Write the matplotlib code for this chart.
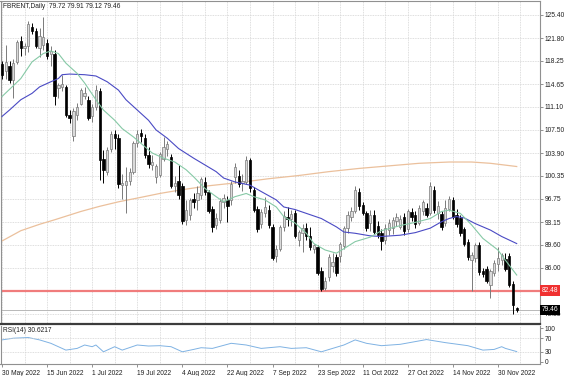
import matplotlib.pyplot as plt
import numpy as np

plt.rcParams['font.family'] = ['Liberation Sans Narrow', 'Liberation Sans', 'DejaVu Sans']

# daily bars, 30 May 2022 .. 7 Dec 2022 (one entry per weekday)
opens = [117.8, 116.6, 117.5, 115.3, 118.1, 121.3, 120.2, 120.6, 123.6, 122.9,
         120.2, 120.8, 121.0, 119.3, 119.4, 114.0, 114.2, 114.2, 109.9, 106.6,
         109.8, 111.6, 112.8, 112.2, 109.6, 111.1, 113.6, 103.0, 101.0, 104.6,
         106.9, 106.3, 98.9, 98.9, 99.5, 101.0, 105.4, 107.0, 106.3, 103.6,
         102.0, 100.2, 100.5, 103.0, 104.5, 103.3, 98.8, 99.6, 98.8, 93.5,
         94.3, 96.8, 96.6, 97.4, 99.4, 97.9, 95.2, 92.7, 93.4, 96.3,
         96.6, 96.6, 100.2, 100.4, 99.2, 99.4, 102.8, 98.1, 95.2, 92.9,
         94.6, 95.0, 92.4, 87.8, 88.9, 92.4, 94.0, 93.6, 94.5, 90.4,
         91.4, 92.2, 91.0, 89.0, 89.3, 85.6, 82.9, 84.6, 86.3, 87.7,
         87.9, 89.4, 92.3, 94.0, 94.8, 97.9, 95.8, 94.5, 93.0, 94.3,
         92.5, 91.4, 90.4, 91.9, 92.3, 93.3, 92.4, 94.0, 92.0, 94.7,
         94.2, 93.0, 94.9, 95.3, 94.6, 98.1, 94.5, 94.4, 93.0, 95.2,
         96.6, 94.2, 93.8, 92.0, 90.0, 87.3, 87.6, 89.6, 85.5, 85.9,
         83.4, 85.2, 86.6, 87.3, 87.4, 87.9, 83.5, 79.72]
highs = [118.3, 120.7, 118.2, 118.6, 121.5, 122.1, 121.0, 124.4, 124.1, 123.4,
         123.3, 125.1, 121.7, 120.5, 119.9, 114.8, 116.0, 114.5, 110.6, 110.9,
         111.7, 114.0, 114.2, 112.8, 111.6, 114.5, 114.0, 104.3, 104.8, 107.3,
         107.5, 106.9, 100.6, 101.8, 101.5, 105.8, 107.5, 107.7, 106.8, 104.9,
         103.6, 102.2, 104.0, 106.4, 105.8, 103.8, 100.4, 102.0, 99.3, 96.6,
         96.9, 97.7, 98.7, 100.2, 100.1, 98.2, 95.6, 94.5, 96.9, 97.5,
         97.2, 99.6, 102.3, 101.3, 100.6, 103.4, 103.1, 98.6, 95.6, 95.2,
         97.0, 95.8, 92.8, 89.5, 92.7, 94.8, 95.5, 95.0, 95.0, 91.9,
         92.9, 93.0, 92.4, 89.8, 89.6, 86.1, 84.6, 88.1, 88.4, 88.1,
         90.0, 92.6, 94.8, 95.5, 98.7, 98.4, 96.3, 94.9, 95.0, 95.0,
         93.3, 92.0, 92.8, 93.6, 94.0, 94.6, 94.3, 94.6, 95.2, 95.3,
         94.8, 95.8, 96.6, 96.1, 99.4, 98.8, 96.4, 94.8, 96.6, 97.2,
         97.0, 95.2, 94.2, 92.4, 90.5, 88.5, 89.9, 90.0, 86.0, 86.3,
         85.9, 87.3, 89.3, 88.4, 88.3, 88.3, 84.0, 79.91]
lows = [115.5, 115.5, 114.8, 112.4, 117.8, 119.0, 119.2, 119.7, 122.5, 120.2,
        118.9, 120.0, 118.5, 117.4, 111.4, 112.5, 113.6, 109.5, 108.6, 105.7,
        109.0, 111.4, 112.3, 109.0, 108.8, 110.6, 99.7, 99.2, 100.5, 104.0,
        104.5, 98.5, 96.8, 94.5, 98.9, 100.7, 104.9, 105.6, 103.2, 101.6,
        101.2, 99.3, 100.2, 102.6, 103.4, 98.5, 97.8, 96.8, 92.9, 92.7,
        93.5, 95.4, 95.0, 96.7, 97.4, 94.5, 91.6, 92.0, 93.0, 95.3,
        93.2, 95.8, 99.3, 98.6, 98.0, 99.0, 97.9, 94.7, 91.6, 92.2,
        94.0, 92.3, 87.2, 86.9, 88.6, 91.8, 92.5, 92.6, 90.6, 89.4,
        88.5, 90.4, 88.8, 88.4, 84.9, 82.48, 82.5, 84.0, 85.4, 84.8,
        87.0, 89.0, 91.5, 93.3, 94.5, 95.0, 94.2, 91.8, 91.7, 91.3,
        90.6, 88.8, 89.8, 91.1, 91.3, 92.6, 92.0, 91.1, 91.6, 93.3,
        92.3, 92.7, 94.2, 93.9, 94.2, 94.6, 93.6, 91.9, 92.5, 94.9,
        93.6, 92.4, 91.0, 89.4, 87.3, 82.4, 86.9, 84.9, 84.6, 83.7,
        81.3, 84.8, 85.6, 86.4, 85.5, 83.0, 78.8, 79.12]
closes = [116.0, 118.1, 115.3, 117.9, 121.2, 120.2, 120.5, 124.0, 122.9, 120.6,
          122.2, 121.9, 119.0, 119.8, 112.8, 114.5, 114.7, 109.8, 109.3, 110.5,
          111.1, 113.7, 113.2, 109.3, 111.1, 113.7, 102.8, 101.2, 104.3, 106.8,
          106.2, 99.0, 99.3, 99.6, 101.0, 105.4, 106.9, 106.5, 103.6, 102.2,
          102.5, 101.9, 103.8, 104.8, 105.3, 98.8, 99.3, 97.4, 93.3, 95.0,
          96.6, 96.2, 97.6, 99.9, 97.9, 94.8, 92.4, 93.8, 96.5, 96.9,
          95.6, 99.1, 101.8, 99.0, 99.6, 102.8, 98.4, 95.1, 92.0, 94.7,
          95.5, 92.7, 87.5, 89.0, 92.4, 94.1, 93.6, 94.4, 90.9, 91.6,
          92.2, 90.9, 89.3, 89.5, 85.2, 82.7, 84.0, 87.7, 87.0, 85.2,
          89.8, 92.3, 94.3, 94.9, 98.2, 95.6, 94.6, 92.3, 94.3, 91.6,
          91.1, 90.2, 92.2, 93.0, 93.5, 93.9, 93.7, 91.7, 94.8, 94.0,
          92.8, 95.4, 96.2, 94.3, 98.7, 95.0, 95.6, 92.4, 95.4, 96.8,
          94.0, 92.8, 91.5, 89.8, 87.7, 88.0, 89.5, 85.3, 85.0, 84.0,
          85.6, 86.8, 87.5, 88.0, 85.9, 83.3, 80.2, 79.46]

# moving averages: (bar index, value)
ma_fast_bars = [0, 5, 8, 11, 13, 15, 17, 20, 22, 25, 27, 30, 32, 35, 38, 40, 43, 46, 49, 51,
                54, 57, 59, 62, 65, 67, 70, 73, 75, 78, 81, 83, 86, 89, 91, 94, 98, 101, 106,
                110, 114, 117, 119, 122, 125, 128, 132, 134, 137]
ma_fast = [112.7, 115.5, 118.1, 119.4, 119.8, 119.4, 117.9, 116.3, 114.8, 112.2, 110.6, 109.0,
           107.7, 106.4, 104.9, 103.9, 103.1, 102.5, 101.3, 100.2, 98.4, 97.1, 96.3, 97.1, 97.6,
           97.1, 96.6, 95.5, 94.0, 93.0, 91.4, 89.8, 88.8, 88.3, 89.0, 90.1, 90.8, 91.8, 92.6,
           93.1, 93.7, 94.8, 95.0, 94.5, 92.7, 90.6, 88.8, 87.2, 84.9]
ma_mid_bars = [0, 2, 5, 8, 10, 13, 15, 16, 18, 22, 25, 28, 31, 33, 36, 39, 41, 44, 47, 51,
               57, 59, 62, 66, 69, 73, 75, 78, 81, 85, 89, 91, 94, 98, 101, 106, 110, 114, 117,
               119, 121, 123, 126, 130, 133, 137]
ma_mid = [109.6, 110.6, 112.2, 113.2, 114.2, 115.0, 115.5, 116.1, 116.2, 116.1, 115.9, 115.0,
          113.7, 112.2, 110.6, 109.0, 107.5, 106.2, 104.6, 103.1, 101.0, 100.0, 99.4, 98.9, 97.9,
          96.6, 95.5, 95.1, 94.5, 93.7, 92.4, 91.6, 91.4, 91.0, 90.9, 91.1, 91.5, 92.2, 93.2,
          93.7, 94.0, 93.8, 92.9, 91.9, 90.9, 89.8]
ma_slow_bars = [0, 5, 10, 14, 21, 26, 31, 37, 42, 47, 55, 63, 71, 79, 87, 95, 103, 111, 119,
                125, 130, 137]
ma_slow = [90.2, 91.8, 92.8, 93.5, 94.8, 95.6, 96.3, 97.0, 97.6, 98.1, 98.8, 99.3, 99.9, 100.4,
           101.0, 101.5, 101.9, 102.3, 102.5, 102.5, 102.3, 101.8]

rsi_bars = [0, 3, 7, 10, 13, 15, 17, 20, 22, 24, 25, 27, 30, 32, 36, 39, 42, 45, 48, 51, 53,
            56, 61, 65, 69, 74, 77, 81, 85, 88, 91, 94, 97, 101, 106, 113, 118, 124, 128, 131,
            133, 134, 137]
rsi = [65, 70, 72, 65, 55, 45, 35, 40, 50, 45, 50, 30, 45, 35, 50, 47, 48, 45, 30, 37, 42,
       40, 55, 50, 40, 45, 40, 42, 30, 40, 50, 65, 55, 48, 52, 66, 57, 48, 35, 37, 45, 40,
       30.6217]

level = 82.48
price_ticks = [125.40, 121.80, 118.25, 114.65, 111.10, 107.50, 103.90, 100.35, 96.75, 93.15,
               89.60, 86.00, 82.40, 78.85]
date_labels = ['30 May 2022', '15 Jun 2022', '1 Jul 2022', '19 Jul 2022', '4 Aug 2022',
               '22 Aug 2022', '7 Sep 2022', '23 Sep 2022', '11 Oct 2022', '27 Oct 2022',
               '14 Nov 2022', '30 Nov 2022']

W, H = 564, 376
fig = plt.figure(figsize=(W / 100, H / 100), dpi=100)
ax = fig.add_axes([0.5 / W, 1 - 324 / H, 539.5 / W, 323 / H])
rax = fig.add_axes([0.5 / W, 1 - 364 / H, 539.5 / W, 38 / H])

x = np.arange(len(closes))
o = np.array(opens)
c = np.array(closes)
up = c >= o
grid_kw = dict(color='#d4d4d4', linestyle=(0, (1, 1)), linewidth=0.6)

# candles
ax.vlines(x[up], np.array(lows)[up], np.array(highs)[up], color='#7a7a7a', linewidth=0.7, zorder=3)
ax.vlines(x[~up], np.array(lows)[~up], np.array(highs)[~up], color='black', linewidth=0.7, zorder=3)
body = np.maximum(np.abs(c - o), 0.08)
ax.bar(x[up], body[up], bottom=np.minimum(o, c)[up], width=0.62, color='#dadada',
       edgecolor='#7a7a7a', linewidth=0.5, zorder=4)
ax.bar(x[~up], body[~up], bottom=np.minimum(o, c)[~up], width=0.62, color='black',
       edgecolor='black', linewidth=0.5, zorder=4)

ax.plot(ma_slow_bars, ma_slow, color='#ebc09c', linewidth=0.9, zorder=2)
ax.plot(ma_mid_bars, ma_mid, color='#4a4ac4', linewidth=0.8, zorder=5)
ax.plot(ma_fast_bars, ma_fast, color='#86c9a6', linewidth=0.8, zorder=5)

ax.axhline(level, color='#f07c7c', linewidth=1.6, zorder=2)
ax.axhline(closes[-1], color='#b8b8b8', linewidth=0.7, zorder=2)

ax.set_xlim(-0.4, 143.2)
ax.set_ylim(77.27, 127.58)
ax.set_xticks(np.arange(0, 144, 6))
ax.tick_params(axis='x', length=0, labelbottom=False)
ax.yaxis.tick_right()
ax.set_yticks(price_ticks)
# the 82.40 label sits under the level box in the original, so it is left blank
ax.set_yticklabels(['' if p == 82.40 else f'{p:.2f}' for p in price_ticks])
ax.tick_params(axis='y', length=2.5, width=0.6, color='#808080', labelsize=4.8, pad=1,
               labelcolor='#202020')
ax.grid(True, **grid_kw)
ax.set_axisbelow(True)
for s in ['top', 'left', 'right']:
    ax.spines[s].set_color('#909090')
    ax.spines[s].set_linewidth(0.8)
ax.spines['bottom'].set_color('#3c3c3c')
ax.spines['bottom'].set_linewidth(1.6)

ax.text(1.004, level, f'{level:.2f}', transform=ax.get_yaxis_transform(), fontsize=4.8,
        color='white', va='center', ha='left', clip_on=False, zorder=10,
        bbox=dict(facecolor='#f03030', edgecolor='none', pad=1.2))
ax.text(1.004, closes[-1], f'{closes[-1]:.2f}', transform=ax.get_yaxis_transform(), fontsize=4.8,
        color='white', va='center', ha='left', clip_on=False, zorder=10,
        bbox=dict(facecolor='black', edgecolor='none', pad=1.2))
ax.text(0.004, 0.993, f'FBRENT,Daily  {opens[-1]:.2f} {highs[-1]:.2f} {lows[-1]:.2f} {closes[-1]:.2f}',
        transform=ax.transAxes, fontsize=4.8, color='#202020', va='top', ha='left')

# RSI pane
rax.plot(rsi_bars, rsi, color='#7fb2e3', linewidth=0.7)
rax.set_xlim(-0.4, 143.2)
rax.set_ylim(-5.9, 105.9)
rax.set_xticks(np.arange(0, 144, 12))
rax.set_xticklabels(date_labels, ha='left')
rax.set_xticks(np.arange(0, 144, 6), minor=True)
rax.tick_params(axis='x', which='major', length=2.5, width=0.6, color='#808080', labelsize=4.8,
                pad=1.5, labelcolor='#202020')
rax.tick_params(axis='x', which='minor', length=0)
rax.yaxis.tick_right()
rax.set_yticks([0, 30, 70, 100])
rax.tick_params(axis='y', length=2.5, width=0.6, color='#808080', labelsize=4.8, pad=1,
                labelcolor='#202020')
rax.grid(True, which='minor', axis='x', **grid_kw)
rax.grid(False, which='major', axis='x')
rax.axhline(70, **grid_kw)
rax.axhline(30, **grid_kw)
for s in ['left', 'right', 'bottom']:
    rax.spines[s].set_color('#909090')
    rax.spines[s].set_linewidth(0.8)
rax.spines['top'].set_visible(False)
rax.text(0.004, 0.97, f'RSI(14) {rsi[-1]:.4f}', transform=rax.transAxes, fontsize=4.8,
         color='#202020', va='top', ha='left')

fig.savefig('out.png', dpi=100)
